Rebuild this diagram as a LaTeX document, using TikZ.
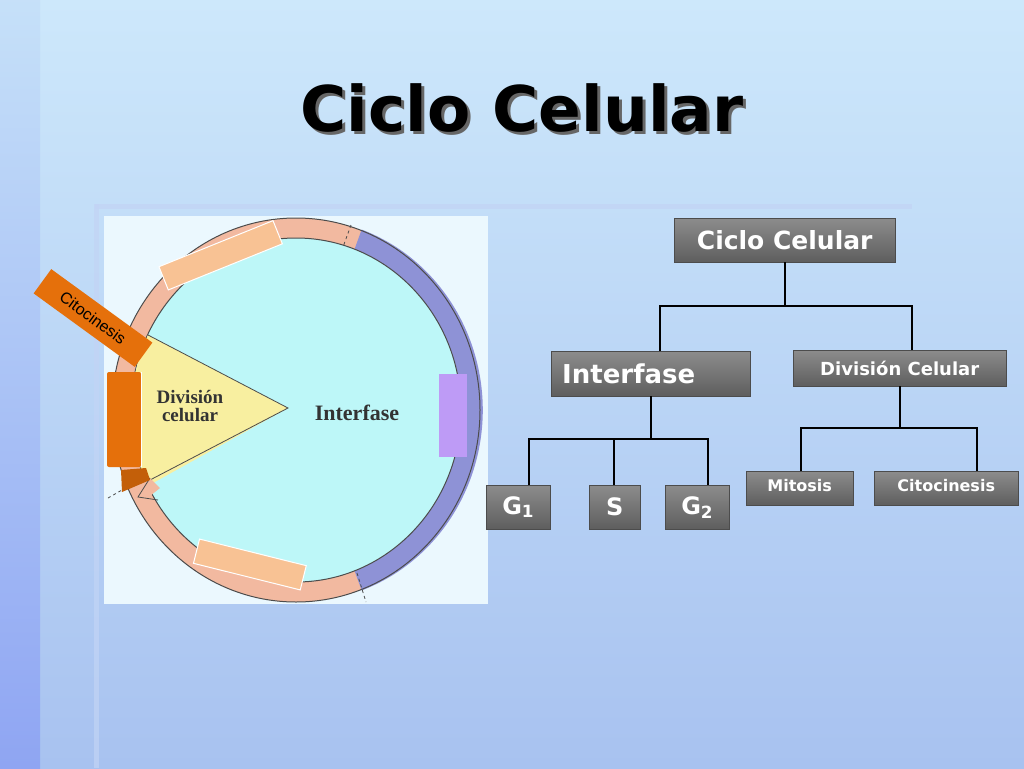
\documentclass[tikz,border=0pt]{standalone}
\usepackage{fontspec}
\setmainfont{DejaVu Sans}
\newfontfamily\serifb{Liberation Serif}
\newfontfamily\arl{Liberation Sans}
\usetikzlibrary{arrows.meta}
\definecolor{bgtop}{HTML}{CDE8FB}
\definecolor{bgbot}{HTML}{A8C2F0}
\definecolor{boxtop}{HTML}{8C8C8C}
\definecolor{boxbot}{HTML}{5E5E5E}
\definecolor{peach}{HTML}{F8C294}
\definecolor{ringpink}{HTML}{F2B9A0}
\definecolor{ringblue}{HTML}{8E92D6}
\definecolor{cyanin}{HTML}{BDF7F8}
\definecolor{orng}{HTML}{E5700B}
\definecolor{purp}{HTML}{BE9BF6}
\definecolor{wedge}{HTML}{F8EFA0}
\tikzset{
 tbox/.style={draw=black!70,top color=boxtop,bottom color=boxbot,text=white,font=\bfseries,inner sep=0pt,anchor=north west},
 conn/.style={line width=2pt,black},
 peachbox/.style={fill=peach,draw=white,line width=1pt}
}
\begin{document}
\begin{tikzpicture}[x=1pt,y=-1pt]
\useasboundingbox (0,0) rectangle (1024,768);
\shade[top color=bgtop,bottom color=bgbot] (0,0) rectangle (1024,768);
\shade[top color=bgtop!80!bgbot,bottom color=bgbot!85!blue] (0,0) rectangle (40,768);
\fill[bgbot!70!white,opacity=0.7] (95,204) rectangle (912,209);
\fill[bgbot!70!white,opacity=0.7] (94,204) rectangle (99,768);
% title
\node[font=\bfseries\fontsize{63}{64}\selectfont,text=black!60] at (525,111) {Ciclo Celular};
\node[font=\bfseries\fontsize{63}{64}\selectfont] (title) at (522,108) {Ciclo Celular};
% picture area
\fill[white!92!cyan] (104,216) rectangle (488,604);
\coordinate (c) at (296,410);
\fill[ringpink] (c) ellipse[x radius=184,y radius=192];
\fill[ringblue] (c) -- ++(-70:192) arc[start angle=-70,end angle=70,x radius=184,y radius=192] -- cycle;
\draw[line width=1pt,black!70] (c) ellipse[x radius=184,y radius=192];
\fill[cyanin] (c) ellipse[x radius=165,y radius=172];
\draw[line width=1pt,black!70] (c) ellipse[x radius=165,y radius=172];
\draw[dashed,thick,black!70] (351,225) -- (343,247);
\draw[dashed,thick,black!70] (357,573) -- (366,602);
\draw[dashed,thick,black!70] (108,498) -- (150,474);
% wedge
\fill[wedge] (288,408) -- (148,335) arc[start angle=206,end angle=154,x radius=165,y radius=172] -- cycle;
\draw[thick,black!70] (148,335) -- (288,408) -- (150,480);
\node[font=\serifb\bfseries\fontsize{19}{18}\selectfont,align=center,text=black!80] (dc) at (190,406) {División\\celular};
\node[font=\serifb\bfseries\fontsize{22}{20}\selectfont,text=black!80] (inter) at (357,413) {Interfase};
% arrow head bottom left
\fill[ringpink] (142,470) -- (160,488) -- (145,500) -- cycle;
\draw[black!70,thick] (150,478) -- (138,497) -- (158,500);
% rectangles
\fill[orng,rounded corners=2pt] (107,372) rectangle (141,467);
\draw[white,line width=1pt] (141,372) -- (141,467);
\fill[orng!85!black] (121,470) -- (146,468) -- (150,480) -- (122,492) -- cycle;
\fill[purp] (439,374) rectangle (467,457);
\draw[peachbox,rotate around={22:(220,255)}] (159,243) rectangle (282,268);
\draw[peachbox,rotate around={-14:(250,564)}] (195,552) rectangle (305,577);
% Citocinesis label
\node[fill=orng,rotate=-36,font=\arl\fontsize{16}{16}\selectfont,inner sep=2pt,minimum width=125pt,minimum height=30pt] (cit) at (93,318) {Citocinesis};
% tree
\node[tbox,minimum width=221pt,minimum height=44pt] (cc) at (674,218) {\fontsize{25}{26}\selectfont Ciclo Celular};
\node[tbox,minimum width=199pt,minimum height=45pt] (ifs) at (551,351) {\fontsize{26}{28}\selectfont\hspace*{-44pt}Interfase};
\node[tbox,minimum width=213pt,minimum height=36pt] (dcel) at (793,350) {\fontsize{18}{18}\selectfont División Celular};
\node[tbox,minimum width=64pt,minimum height=44pt] (g1) at (486,485) {\fontsize{24}{26}\selectfont G\textsubscript{1}};
\node[tbox,minimum width=51pt,minimum height=44pt] (s) at (589,485) {\fontsize{24}{26}\selectfont S};
\node[tbox,minimum width=64pt,minimum height=44pt] (g2) at (665,485) {\fontsize{24}{26}\selectfont G\textsubscript{2}};
\node[tbox,minimum width=107pt,minimum height=34pt] (mit) at (746,471) {\raisebox{6pt}{\fontsize{16}{17}\selectfont Mitosis}};
\node[tbox,minimum width=144pt,minimum height=34pt] (cito) at (874,471) {\raisebox{6pt}{\fontsize{16}{17}\selectfont Citocinesis}};
\draw[conn] (cc.south) -- ++(0,44) coordinate (j1);
\draw[conn] (ifs.north -| 660,0) |- (j1) -| (dcel.north -| 912,0);
\draw[conn] (ifs.south) -- ++(0,43) coordinate (j2);
\draw[conn] (g1.north -| 529,0) |- (j2) -| (g2.north -| 708,0);
\draw[conn] (s.north -| 614,0) -- (614,439);
\draw[conn] (dcel.south) -- ++(0,42) coordinate (j3);
\draw[conn] (mit.north -| 801,0) |- (j3) -| (cito.north -| 977,0);
\end{tikzpicture}
\end{document}
